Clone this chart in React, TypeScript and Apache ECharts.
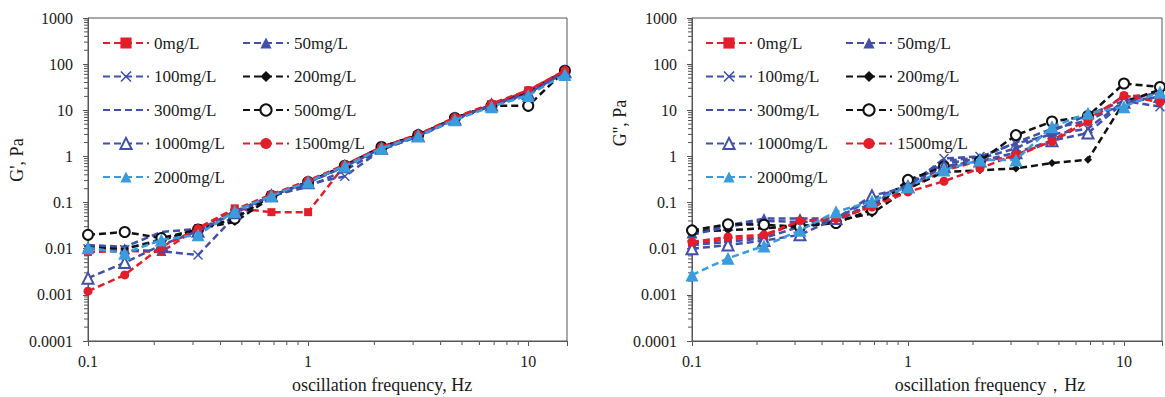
import React, { useEffect, useRef } from 'react';
import * as echarts from 'echarts';

// oscillation frequency (Hz)
const freq = [0.1, 0.1468, 0.2154, 0.3162, 0.4642, 0.6813, 1, 1.468, 2.154, 3.162, 4.642, 6.813, 10, 14.68];

const seriesNames = ['0mg/L', '50mg/L', '100mg/L', '200mg/L', '300mg/L', '500mg/L', '1000mg/L', '1500mg/L', '2000mg/L'];
const legendCol1 = ['0mg/L', '100mg/L', '300mg/L', '1000mg/L', '2000mg/L'];
const legendCol2 = ['50mg/L', '200mg/L', '500mg/L', '1500mg/L'];

// G' (storage modulus, Pa)
const storage0 = [0.0085, 0.009, 0.0085, 0.028, 0.075, 0.062, 0.062, 0.65, 1.6, 2.9, 6.8, 13, 27, 72];
const storage50 = [0.011, 0.01, 0.016, 0.025, 0.065, 0.14, 0.28, 0.62, 1.5, 2.8, 6.5, 13, 23, 70];
const storage100 = [0.01, 0.0095, 0.0088, 0.0073, 0.05, 0.14, 0.25, 0.37, 1.4, 2.8, 6.3, 13, 22, 68];
const storage200 = [0.011, 0.01, 0.015, 0.027, 0.038, 0.13, 0.28, 0.62, 1.6, 2.9, 6.8, 13, 24, 72];
const storage300 = [0.012, 0.011, 0.023, 0.027, 0.045, 0.14, 0.22, 0.5, 1.4, 2.7, 6.2, 12.5, 22, 68];
const storage500 = [0.02, 0.023, 0.017, 0.026, 0.045, 0.14, 0.28, 0.63, 1.6, 2.9, 6.8, 12.5, 12.5, 72];
const storage1000 = [0.0023, 0.005, 0.012, 0.024, 0.06, 0.14, 0.27, 0.6, 1.5, 2.8, 6.5, 13, 23, 68];
const storage1500 = [0.0012, 0.0027, 0.011, 0.027, 0.07, 0.15, 0.3, 0.66, 1.6, 3, 7, 14, 27, 73];
const storage2000 = [0.0105, 0.008, 0.0155, 0.02, 0.065, 0.14, 0.28, 0.62, 1.5, 2.8, 6.2, 12, 21, 60];

// G'' (loss modulus, Pa)
const loss0 = [0.013, 0.016, 0.018, 0.04, 0.042, 0.085, 0.2, 0.5, 0.8, 1.0, 2.2, 6.5, 20, 22];
const loss50 = [0.022, 0.032, 0.045, 0.045, 0.045, 0.12, 0.24, 0.7, 0.9, 1.5, 3.5, 8, 16, 25];
const loss100 = [0.012, 0.014, 0.017, 0.03, 0.04, 0.1, 0.22, 0.9, 1.0, 1.9, 3.0, 4.0, 16, 12];
const loss200 = [0.024, 0.025, 0.028, 0.03, 0.04, 0.058, 0.2, 0.46, 0.5, 0.55, 0.72, 0.85, 15, 28];
const loss300 = [0.02, 0.03, 0.04, 0.038, 0.04, 0.09, 0.25, 0.8, 0.95, 2.0, 4.0, 6, 14, 20];
const loss500 = [0.025, 0.034, 0.033, 0.03, 0.036, 0.07, 0.31, 0.6, 0.8, 2.9, 5.7, 7.5, 38, 32];
const loss1000 = [0.01, 0.012, 0.015, 0.02, 0.045, 0.14, 0.22, 0.6, 0.8, 1.2, 2.2, 3.2, 15, 20];
const loss1500 = [0.014, 0.018, 0.02, 0.04, 0.045, 0.08, 0.17, 0.29, 0.55, 1.1, 2.1, 5.7, 21, 15];
const loss2000 = [0.0027, 0.0062, 0.0115, 0.025, 0.063, 0.107, 0.22, 0.51, 0.84, 0.84, 4.4, 8.6, 12, 25];

const storageSets = [storage0, storage50, storage100, storage200, storage300, storage500, storage1000, storage1500, storage2000];
const lossSets = [loss0, loss50, loss100, loss200, loss300, loss500, loss1000, loss1500, loss2000];

const yTickLabels = ['0.0001', '0.001', '0.01', '0.1', '1', '10', '100', '1000'];
const xTickLabels = ['0.1', '1', '10'];
const minorMultipliers = [2, 3, 4, 5, 6, 7, 8, 9];
const yDecades = [0.0001, 0.001, 0.01, 0.1, 1, 10, 100];
const xDecades = [0.1, 1, 10];

const RED = '#e31e2a';
const BLUE = '#4150aa';
const LIGHT = '#3a9cdb';
const BLACK = '#111111';
const X_PATH = 'path://M0,1L1,0L5,4L9,0L10,1L6,5L10,9L9,10L5,6L1,10L0,9L4,5Z';
const SERIF = '"Liberation Serif", "Times New Roman", serif';

const styles = [
  { color: RED, symbol: 'rect', size: 8 },
  { color: BLUE, symbol: 'triangle', size: 11 },
  { color: BLUE, symbol: X_PATH, size: 10 },
  { color: BLACK, symbol: 'diamond', size: 8 },
  { color: BLUE, symbol: 'none', size: 0 },
  { color: BLACK, symbol: 'emptyCircle', size: 10 },
  { color: BLUE, symbol: 'emptyTriangle', size: 11 },
  { color: RED, symbol: 'circle', size: 9 },
  { color: LIGHT, symbol: 'triangle', size: 13 },
];

export default function App() {
  const ref = useRef<HTMLDivElement>(null);
  useEffect(() => {
    if (!ref.current) return;
    const chart = echarts.init(ref.current, null, { renderer: 'svg' });

    const yMinor: number[] = [];
    yDecades.forEach((d) => minorMultipliers.forEach((m) => yMinor.push(d * m)));
    const xMinor: number[] = [];
    xDecades.forEach((d) => minorMultipliers.forEach((m) => { if (d * m <= 15) xMinor.push(d * m); }));

    const axisColor = '#555';
    const labelText = { fontFamily: SERIF, fontSize: 16, color: '#1a1a1a' };

    const xAxis = (gi: number) => ({
      type: 'log', logBase: 10, gridIndex: gi, min: 0.1, max: 15, interval: 1,
      axisLine: { show: true, lineStyle: { color: axisColor, width: 1 } },
      axisTick: { show: true, length: 5, lineStyle: { color: axisColor } },
      axisLabel: {
        ...labelText, margin: 12,
        formatter: (v: number) => {
          const e = Math.log10(v);
          if (Math.abs(e - Math.round(e)) > 1e-6) return '';
          return xTickLabels[Math.round(e) + 1] ?? '';
        },
      },
      splitLine: { show: false },
    });
    const yAxis = (gi: number) => ({
      type: 'log', logBase: 10, gridIndex: gi, min: 0.0001, max: 1000, interval: 1,
      axisLine: { show: true, lineStyle: { color: axisColor, width: 1 } },
      axisTick: { show: true, length: 5, lineStyle: { color: axisColor } },
      axisLabel: {
        ...labelText, margin: 15,
        formatter: (v: number) => yTickLabels[Math.round(Math.log10(v)) + 4] ?? '',
      },
      splitLine: { show: false },
    });

    const minorSeries = (gi: number, dir: 'x' | 'y') => ({
      type: 'custom', xAxisIndex: gi, yAxisIndex: gi, silent: true, clip: false, z: 1,
      encode: { x: 0, y: 1 },
      data: dir === 'y' ? yMinor.map((v) => [0.1, v]) : xMinor.map((v) => [v, 0.0001]),
      renderItem: (_p: any, api: any) => {
        const p = api.coord([api.value(0), api.value(1)]);
        return dir === 'y'
          ? { type: 'line', shape: { x1: p[0] - 4, y1: p[1], x2: p[0], y2: p[1] }, style: { stroke: axisColor, lineWidth: 1 } }
          : { type: 'line', shape: { x1: p[0], y1: p[1], x2: p[0], y2: p[1] + 4 }, style: { stroke: axisColor, lineWidth: 1 } };
      },
    });

    const dataSeries = (gi: number, sets: number[][]) =>
      sets.map((vals, k) => {
        const st = styles[k];
        return {
          name: seriesNames[k], type: 'line', xAxisIndex: gi, yAxisIndex: gi,
          data: freq.map((f, i) => [f, vals[i]]),
          symbol: st.symbol, symbolSize: st.size, showSymbol: st.symbol !== 'none',
          lineStyle: { color: st.color, width: 2.5, type: [7, 4] },
          itemStyle: { color: st.color, borderColor: st.color, borderWidth: st.symbol.startsWith('empty') ? 1.5 : 0 },
          z: 3 + k,
        };
      });

    const legendItems = (names: string[]) =>
      names.map((n) => (n === '300mg/L' ? { name: n, itemStyle: { opacity: 0 } } : { name: n }));

    const legendBase = {
      orient: 'vertical', itemWidth: 46, itemHeight: 14, itemGap: 16.5, padding: 0,
      selectedMode: false,
      textStyle: { fontFamily: SERIF, fontSize: 17, color: '#1a1a1a', lineHeight: 17 },
    };

    const text = (s: string, x: number, y: number, rot = 0) => ({
      type: 'text', x, y, rotation: rot,
      style: { text: s, fill: '#1a1a1a', font: `18px ${SERIF}`, align: 'center', verticalAlign: 'middle' },
    });

    chart.setOption({
      animation: false,
      backgroundColor: '#fff',
      grid: [
        { left: 88, top: 18, width: 479, height: 323, show: true, borderColor: axisColor, borderWidth: 1 },
        { left: 692, top: 18, width: 479, height: 323, show: true, borderColor: axisColor, borderWidth: 1 },
      ],
      xAxis: [xAxis(0), xAxis(1)],
      yAxis: [yAxis(0), yAxis(1)],
      legend: [
        { ...legendBase, left: 102, top: 34.5, data: legendItems(legendCol1) },
        { ...legendBase, left: 242, top: 34.5, data: legendItems(legendCol2) },
        { ...legendBase, left: 705, top: 34.5, data: legendItems(legendCol1) },
        { ...legendBase, left: 845, top: 34.5, data: legendItems(legendCol2) },
      ],
      graphic: [
        text("G', Pa", 17, 160, Math.PI / 2),
        text("G'', Pa", 620, 123, Math.PI / 2),
        text('oscillation frequency, Hz', 382, 385),
        text('oscillation frequency，Hz', 990, 385),
      ],
      series: [
        minorSeries(0, 'x'), minorSeries(0, 'y'), minorSeries(1, 'x'), minorSeries(1, 'y'),
        ...dataSeries(0, storageSets),
        ...dataSeries(1, lossSets),
      ],
    } as any);
    return () => chart.dispose();
  }, []);
  return <div ref={ref} style={{ position: 'fixed', left: 0, top: 0, width: 1165, height: 397 }} />;
}
